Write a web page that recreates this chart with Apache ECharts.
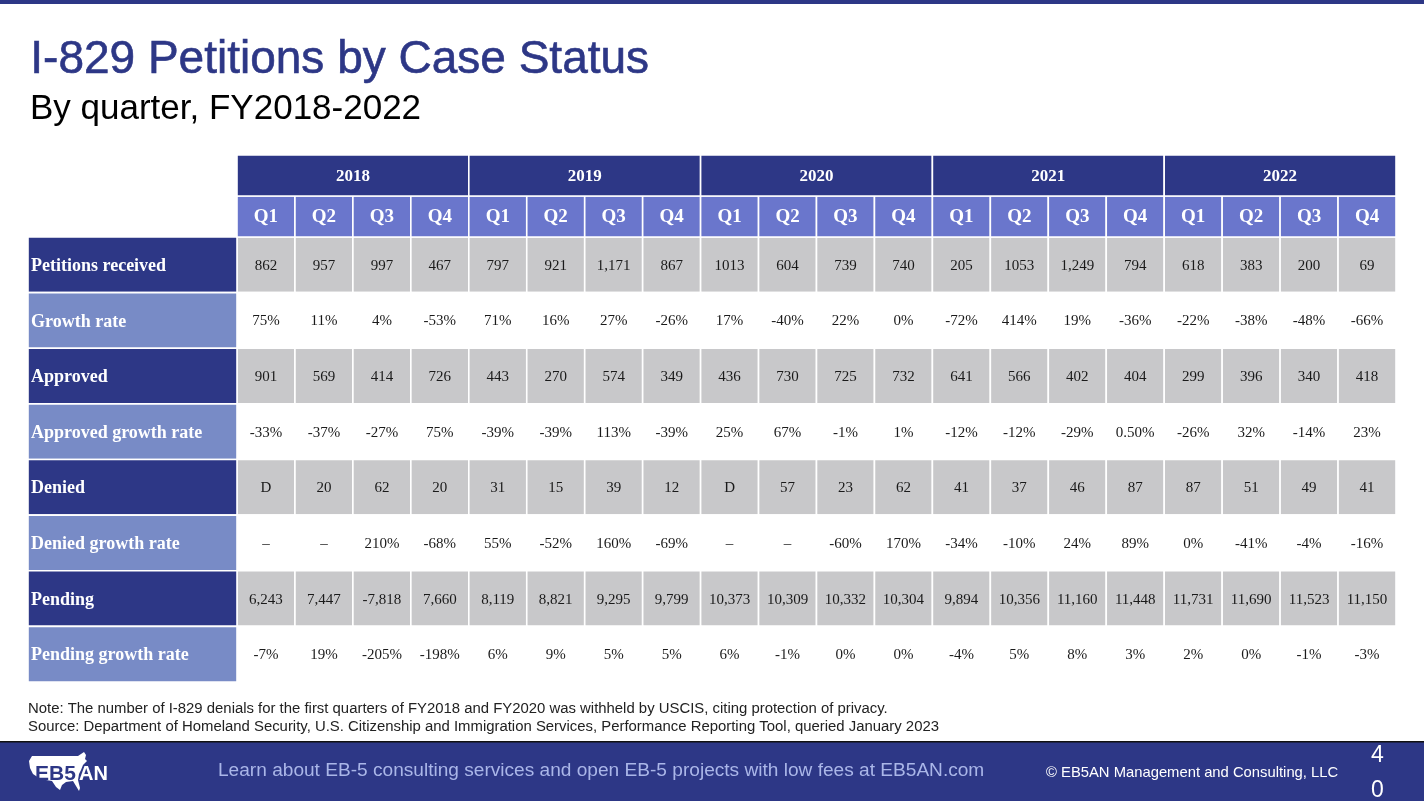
<!DOCTYPE html>
<html><head><meta charset="utf-8">
<script src="https://cdn.jsdelivr.net/npm/echarts@6/dist/echarts.min.js"></script>
<style>html,body{margin:0;padding:0;background:#fff}#c{width:1424px;height:801px}</style>
</head><body><div id="c"></div>
<script>
// ---- Data ----
const years = ['2018', '2019', '2020', '2021', '2022'];
const quarters = ['Q1', 'Q2', 'Q3', 'Q4'];
const rowNames = ['Petitions received', 'Growth rate', 'Approved', 'Approved growth rate',
  'Denied', 'Denied growth rate', 'Pending', 'Pending growth rate'];
const petitionsReceived = ['862','957','997','467','797','921','1,171','867','1013','604','739','740','205','1053','1,249','794','618','383','200','69'];
const growthRate = ['75%','11%','4%','-53%','71%','16%','27%','-26%','17%','-40%','22%','0%','-72%','414%','19%','-36%','-22%','-38%','-48%','-66%'];
const approved = ['901','569','414','726','443','270','574','349','436','730','725','732','641','566','402','404','299','396','340','418'];
const approvedGrowth = ['-33%','-37%','-27%','75%','-39%','-39%','113%','-39%','25%','67%','-1%','1%','-12%','-12%','-29%','0.50%','-26%','32%','-14%','23%'];
const denied = ['D','20','62','20','31','15','39','12','D','57','23','62','41','37','46','87','87','51','49','41'];
const deniedGrowth = ['\u2013','\u2013','210%','-68%','55%','-52%','160%','-69%','\u2013','\u2013','-60%','170%','-34%','-10%','24%','89%','0%','-41%','-4%','-16%'];
const pending = ['6,243','7,447','-7,818','7,660','8,119','8,821','9,295','9,799','10,373','10,309','10,332','10,304','9,894','10,356','11,160','11,448','11,731','11,690','11,523','11,150'];
const pendingGrowth = ['-7%','19%','-205%','-198%','6%','9%','5%','5%','6%','-1%','0%','0%','-4%','5%','8%','3%','2%','0%','-1%','-3%'];
const noteText = 'Note: The number of I-829 denials for the first quarters of FY2018 and FY2020 was withheld by USCIS, citing protection of privacy.';
const sourceText = 'Source: Department of Homeland Security, U.S. Citizenship and Immigration Services, Performance Reporting Tool, queried January 2023';

// ---- Build ----
const columns = years.flatMap(y => quarters.map(q => y + ' ' + q));
const rows = [petitionsReceived, growthRate, approved, approvedGrowth, denied, deniedGrowth, pending, pendingGrowth];

const DARK = '#2D3786', QROW = '#6A76CC', LIGHT = '#788BC6', GREY = '#C8C8CA';
const SERIF = "'Liberation Serif', 'Times New Roman', serif";
const SANS = "'Liberation Sans', Arial, sans-serif";

const cellData = [];
rows.forEach((vals, r) => vals.forEach((v, c) => cellData.push([c, r, v])));
const rowHeadData = rowNames.map((n, r) => [0, r, n]);
const quarterData = columns.map((col, c) => [c, 1, quarters[c % 4]]);
const yearData = years.map((y, i) => [i * 4, 0, y]);

function cellRect(api, span) {
  const p = api.coord([api.value(0), api.value(1)]);
  const s = api.size([1, 1]);
  return { x: p[0] - s[0] / 2, y: p[1] - s[1] / 2, w: s[0] * span, h: s[1] };
}

const chart = echarts.init(document.getElementById('c'), null, { renderer: 'canvas' });
const hiddenCat = (data, gi, inverse) => ({ type: 'category', data, gridIndex: gi, show: false, inverse: !!inverse });

const mapShape = [[4,4],[50,4],[53,2],[56,0],[58,3],[57,7],[59,9],[55,13],[53,18],[51,22],[50,28],[52,36],[51,39],
  [48,34],[45,29],[38,30],[34,33],[32,38],[28,35],[24,29],[18,28],[11,26],[5,22],[2,16],[1,9]];

const option = {
  animation: false,
  backgroundColor: '#fff',
  grid: [
    { left: 237, top: 237, width: 1159, height: 445 },
    { left: 28, top: 237, width: 209, height: 445 },
    { left: 237, top: 155, width: 1159, height: 82 }
  ],
  xAxis: [hiddenCat(columns, 0), hiddenCat(['label'], 1), hiddenCat(columns, 2)],
  yAxis: [hiddenCat(rowNames, 0, true), hiddenCat(rowNames, 1, true), hiddenCat(['year', 'quarter'], 2, true)],
  series: [
    {
      type: 'custom', xAxisIndex: 0, yAxisIndex: 0, data: cellData, silent: true,
      encode: { x: 0, y: 1 },
      renderItem: (params, api) => {
        const r = cellRect(api, 1);
        const rowIdx = api.value(1);
        return { type: 'group', children: [
          { type: 'rect', shape: { x: r.x, y: r.y, width: r.w, height: r.h },
            style: { fill: rowIdx % 2 === 0 ? GREY : '#fff', stroke: '#fff', lineWidth: 1.6 } },
          { type: 'text', style: { text: cellData[params.dataIndex][2], x: r.x + r.w / 2, y: r.y + r.h / 2 + 1,
            align: 'center', verticalAlign: 'middle', font: '15px ' + SERIF, fill: '#1a1a1a' } }
        ]};
      }
    },
    {
      type: 'custom', xAxisIndex: 1, yAxisIndex: 1, data: rowHeadData, silent: true,
      encode: { x: 0, y: 1 },
      renderItem: (params, api) => {
        const r = cellRect(api, 1);
        const rowIdx = api.value(1);
        return { type: 'group', children: [
          { type: 'rect', shape: { x: r.x, y: r.y, width: r.w, height: r.h },
            style: { fill: rowIdx % 2 === 0 ? DARK : LIGHT, stroke: '#fff', lineWidth: 1.6 } },
          { type: 'text', style: { text: rowHeadData[params.dataIndex][2], x: r.x + 3, y: r.y + r.h / 2 + 1.5,
            align: 'left', verticalAlign: 'middle', font: 'bold 18px ' + SERIF, fill: '#fff' } }
        ]};
      }
    },
    {
      type: 'custom', xAxisIndex: 2, yAxisIndex: 2, data: quarterData, silent: true,
      encode: { x: 0, y: 1 },
      renderItem: (params, api) => {
        const r = cellRect(api, 1);
        return { type: 'group', children: [
          { type: 'rect', shape: { x: r.x, y: r.y, width: r.w, height: r.h },
            style: { fill: QROW, stroke: '#fff', lineWidth: 1.6 } },
          { type: 'text', style: { text: quarterData[params.dataIndex][2], x: r.x + r.w / 2, y: r.y + r.h / 2 + 1,
            align: 'center', verticalAlign: 'middle', font: 'bold 19px ' + SERIF, fill: '#fff' } }
        ]};
      }
    },
    {
      type: 'custom', xAxisIndex: 2, yAxisIndex: 2, data: yearData, silent: true,
      encode: { x: 0, y: 1 },
      renderItem: (params, api) => {
        const r = cellRect(api, 4);
        return { type: 'group', children: [
          { type: 'rect', shape: { x: r.x, y: r.y, width: r.w, height: r.h },
            style: { fill: DARK, stroke: '#fff', lineWidth: 1.6 } },
          { type: 'text', style: { text: yearData[params.dataIndex][2], x: r.x + r.w / 2, y: r.y + r.h / 2 + 1,
            align: 'center', verticalAlign: 'middle', font: 'bold 17px ' + SERIF, fill: '#fff' } }
        ]};
      }
    }
  ],
  graphic: [
    { type: 'rect', left: 0, top: 0, shape: { width: 1424, height: 4 }, style: { fill: DARK }, silent: true },
    { type: 'text', left: 30, top: 37, style: { text: 'I-829 Petitions by Case Status', font: '46px ' + SANS, fill: DARK, stroke: DARK, lineWidth: 0.6 } },
    { type: 'text', left: 30, top: 92, style: { text: 'By quarter, FY2018-2022', font: '35px ' + SANS, fill: '#000' } },
    { type: 'text', left: 28, top: 701, style: { text: noteText, font: '14.9px ' + SANS, fill: '#222' } },
    { type: 'text', left: 28, top: 719, style: { text: sourceText, font: '14.9px ' + SANS, fill: '#222' } },
    { type: 'rect', left: 0, top: 741, shape: { width: 1424, height: 60 }, style: { fill: DARK }, silent: true },
    { type: 'rect', left: 0, top: 741, shape: { width: 1424, height: 1.5 }, style: { fill: '#111' }, silent: true },
    { type: 'polygon', left: 29, top: 752, shape: { points: mapShape }, style: { fill: '#fff' }, silent: true },
    { type: 'text', left: 35, top: 764, style: { text: 'EB5', font: 'bold 21px ' + SANS, fill: DARK } },
    { type: 'text', left: 79, top: 764, style: { text: 'AN', font: 'bold 20px ' + SANS, fill: '#fff' } },
    { type: 'text', left: 218, top: 761, style: { text: 'Learn about EB-5 consulting services and open EB-5 projects with low fees at EB5AN.com', font: '19.1px ' + SANS, fill: '#AAB6E8' } },
    { type: 'text', left: 1046, top: 765, style: { text: '\u00A9 EB5AN Management and Consulting, LLC', font: '14.8px ' + SANS, fill: '#fff' } },
    { type: 'text', left: 1371, top: 744, style: { text: '4', font: '23px ' + SANS, fill: '#fff' } },
    { type: 'text', left: 1371, top: 779, style: { text: '0', font: '23px ' + SANS, fill: '#fff' } }
  ]
};
chart.setOption(option);
</script>
</body></html>
